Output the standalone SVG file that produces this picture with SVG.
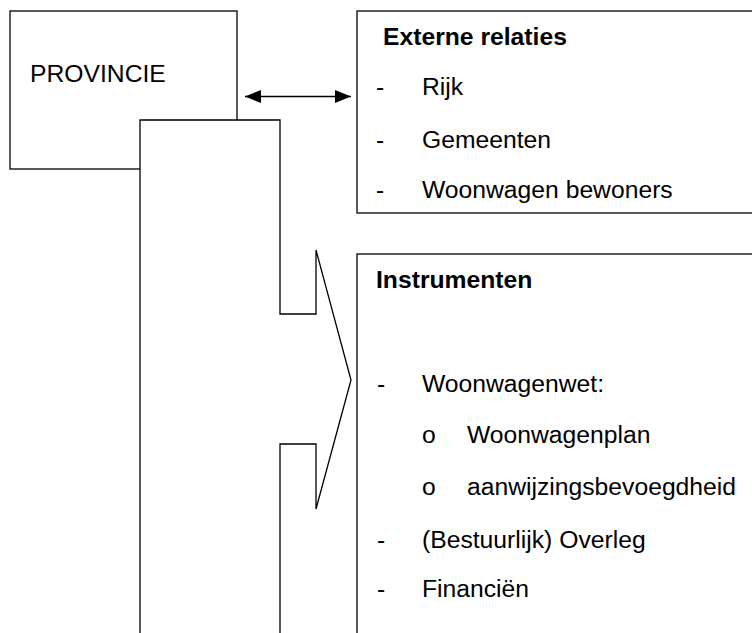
<svg xmlns="http://www.w3.org/2000/svg" width="752" height="633" viewBox="0 0 752 633">
  <style>
    .box { fill: #fff; stroke: #000; stroke-width: 1.3; }
    .t { font-family: "Liberation Sans", Arial, sans-serif; font-size: 24.7px; fill: #000; }
    .b { font-weight: bold; }
    .link { stroke: #000; stroke-width: 1.5; fill: none; }
  </style>
  <defs>
    <marker id="head" viewBox="0 0 16 13" refX="16" refY="6.5" markerWidth="16" markerHeight="13" markerUnits="userSpaceOnUse" orient="auto-start-reverse">
      <path d="M0,0 L16,6.5 L0,13 Z" fill="#000"/>
    </marker>
  </defs>

  <g id="provincie">
    <rect class="box" x="10" y="11" width="227" height="158"/>
    <text class="t" x="30" y="82">PROVINCIE</text>
  </g>

  <g id="uitvoering">
    <polygon class="box" points="140,120 280,120 280,314 316,314 316,250 351,380 316,509 316,444 280,444 280,645 140,645"/>
  </g>

  <g id="externe-relaties">
    <rect class="box" x="357" y="11" width="400" height="202"/>
    <text class="t b" x="383" y="45">Externe relaties</text>
    <text class="t" x="376" y="95">-</text>
    <text class="t" x="422" y="95">Rijk</text>
    <text class="t" x="376" y="148">-</text>
    <text class="t" x="422" y="148">Gemeenten</text>
    <text class="t" x="376" y="198">-</text>
    <text class="t" x="422" y="198">Woonwagen bewoners</text>
  </g>

  <g id="instrumenten">
    <rect class="box" x="357" y="254" width="400" height="400"/>
    <text class="t b" x="376" y="288">Instrumenten</text>
    <text class="t" x="377" y="392">-</text>
    <text class="t" x="422" y="392">Woonwagenwet:</text>
    <text class="t" x="422" y="443">o</text>
    <text class="t" x="467" y="443">Woonwagenplan</text>
    <text class="t" x="422" y="495">o</text>
    <text class="t" x="467" y="495">aanwijzingsbevoegdheid</text>
    <text class="t" x="377" y="548">-</text>
    <text class="t" x="422" y="548">(Bestuurlijk) Overleg</text>
    <text class="t" x="377" y="597">-</text>
    <text class="t" x="422" y="597">Financiën</text>
  </g>

  <g id="connectors">
    <line class="link" x1="245" y1="96.5" x2="351" y2="96.5" marker-start="url(#head)" marker-end="url(#head)"/>
  </g>
</svg>
